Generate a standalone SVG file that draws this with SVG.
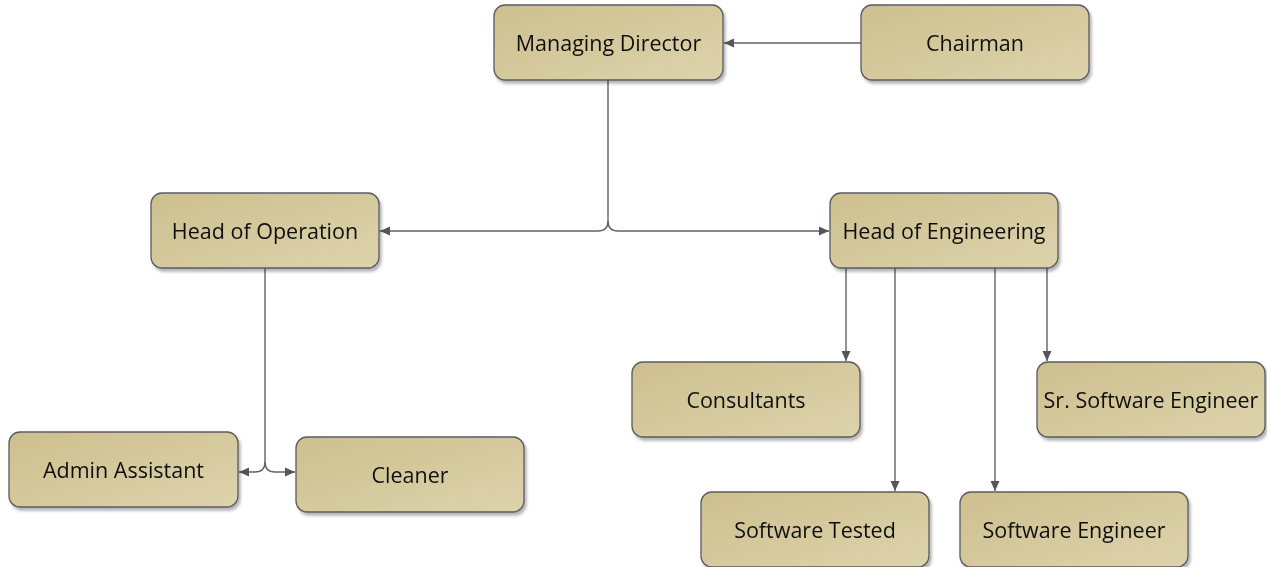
<svg xmlns="http://www.w3.org/2000/svg" width="1267" height="567" viewBox="0 0 1267 567">
<style>
.box{fill:url(#g);stroke:#5b5b63;stroke-width:1.3}
.lbl{font-family:"Open Sans","Noto Sans",sans-serif;font-size:21.5px;fill:#111;text-anchor:middle;dominant-baseline:central}
.ln{fill:none;stroke:#62626c;stroke-width:1.4}
</style>
<defs>
<linearGradient id="g" x1="0" y1="0" x2="1" y2="1">
<stop offset="0" stop-color="#cdbf8e"/>
<stop offset="1" stop-color="#ddd3ac"/>
</linearGradient>
<filter id="sh" x="-10%" y="-10%" width="125%" height="130%">
<feGaussianBlur in="SourceAlpha" stdDeviation="1.5"/>
<feOffset dx="2" dy="3"/>
<feComponentTransfer><feFuncA type="linear" slope="0.3"/></feComponentTransfer>
<feMerge><feMergeNode/><feMergeNode in="SourceGraphic"/></feMerge>
</filter>
<marker id="a" markerWidth="11" markerHeight="11" refX="10" refY="5.5" orient="auto" markerUnits="userSpaceOnUse">
<path d="M0,1 L10,5.5 L0,10 Z" fill="#55555e"/>
</marker>
</defs>
<rect width="1267" height="567" fill="#fff"/>
<g id="connectors">
<path class="ln" d="M861,43 H724" marker-end="url(#a)"/>
<path class="ln" d="M608,80 V221 Q608,231 598,231 H380" marker-end="url(#a)"/>
<path class="ln" d="M608,221 Q608,231 618,231 H829" marker-end="url(#a)"/>
<path class="ln" d="M265,268 V462 Q265,472 255,472 H239" marker-end="url(#a)"/>
<path class="ln" d="M265,462 Q265,472 275,472 H295" marker-end="url(#a)"/>
<path class="ln" d="M846,268 V361" marker-end="url(#a)"/>
<path class="ln" d="M895,268 V491" marker-end="url(#a)"/>
<path class="ln" d="M995,268 V491" marker-end="url(#a)"/>
<path class="ln" d="M1047,268 V361" marker-end="url(#a)"/>
</g>
<g id="managing-director" filter="url(#sh)"><rect class="box" x="494" y="5" width="229" height="75" rx="11"/><text class="lbl" x="608.5" y="42.5">Managing Director</text></g>
<g id="chairman" filter="url(#sh)"><rect class="box" x="861" y="5" width="228" height="75" rx="11"/><text class="lbl" x="975" y="42.5">Chairman</text></g>
<g id="head-of-operation" filter="url(#sh)"><rect class="box" x="151" y="193" width="228" height="75" rx="11"/><text class="lbl" x="265" y="230.5">Head of Operation</text></g>
<g id="head-of-engineering" filter="url(#sh)"><rect class="box" x="830" y="193" width="228" height="75" rx="11"/><text class="lbl" x="944" y="230.5">Head of Engineering</text></g>
<g id="consultants" filter="url(#sh)"><rect class="box" x="632" y="362" width="228" height="75" rx="11"/><text class="lbl" x="746" y="399.5">Consultants</text></g>
<g id="sr-software-engineer" filter="url(#sh)"><rect class="box" x="1037" y="362" width="228" height="75" rx="11"/><text class="lbl" x="1151" y="399.5">Sr. Software Engineer</text></g>
<g id="admin-assistant" filter="url(#sh)"><rect class="box" x="9" y="432" width="229" height="75" rx="11"/><text class="lbl" x="123.5" y="469.5">Admin Assistant</text></g>
<g id="cleaner" filter="url(#sh)"><rect class="box" x="296" y="437" width="228" height="75" rx="11"/><text class="lbl" x="410" y="474.5">Cleaner</text></g>
<g id="software-tested" filter="url(#sh)"><rect class="box" x="701" y="492" width="228" height="75" rx="11"/><text class="lbl" x="815" y="529.5">Software Tested</text></g>
<g id="software-engineer" filter="url(#sh)"><rect class="box" x="960" y="492" width="228" height="75" rx="11"/><text class="lbl" x="1074" y="529.5">Software Engineer</text></g>
</svg>
